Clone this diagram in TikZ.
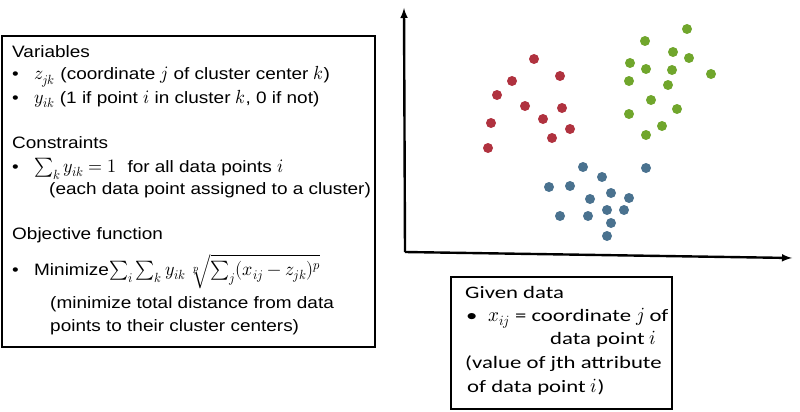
\documentclass[tikz,border=0pt]{standalone}
\usepackage{amsmath}
\usepackage{graphicx}
\usepackage{fontspec}
\usepackage{unicode-math}
\setmainfont{Liberation Sans}[FakeStretch=1.15]
\setmathfont{Latin Modern Math}[Scale=1.15]
\newfontfamily\givenfont{Carlito}[FakeStretch=1.3]
\usepackage{xcolor}
\usepackage{tikz}

\definecolor{clusterred}{RGB}{176,50,63}
\definecolor{clustergreen}{RGB}{112,166,44}
\definecolor{clusterblue}{RGB}{74,114,143}

\newcommand{\wmath}[1]{\scalebox{0.95}[1]{$#1$}}
\newcommand{\bul}{\makebox[22pt][l]{\textbullet}}

\begin{document}
\begin{tikzpicture}[x=1pt, y=-1pt,
    frame/.style={draw, line width=2.6pt},
    txt/.style={anchor=base west, inner sep=0pt, font=\fontsize{16.5}{20}\selectfont},
    gtxt/.style={anchor=base west, inner sep=0pt, font=\givenfont\fontsize{17.5}{20}\selectfont},
    axis/.style={->, >=latex, line width=2.4pt}]

    \useasboundingbox (0,0) rectangle (800,412);

    \draw [frame] (2,36) rectangle (375,347);
    \node [txt] (varhead) at (12,57) {Variables};
    \node [txt] (varz) at (12,80) {\bul\wmath{z_{jk}} (coordinate \wmath{j} of cluster center \wmath{k})};
    \node [txt] (vary) at (12,103) {\bul\wmath{y_{ik}} (1 if point \wmath{i} in cluster \wmath{k}, 0 if not)};
    \node [txt] (conhead) at (12,148) {Constraints};
    \node [txt] (consum) at (12,172) {\bul\wmath{\sum_k y_{ik} = 1}\ \ for all data points \wmath{i}};
    \node [txt] (conexp) at (49,194) {(each data point assigned to a cluster)};
    \node [txt] (objhead) at (12,239) {Objective function};
    \node [txt] (objmin) at (12,275) {\bul Minimize\wmath{\sum_i \sum_k y_{ik}\;\sqrt[p]{\sum_j (x_{ij} - z_{jk})^p}}};
    \node [txt] (objexp1) at (50,308) {(minimize total distance from data};
    \node [txt] (objexp2) at (50,331) {points to their cluster centers)};

    \coordinate (origin) at (405,252);
    \coordinate (ytip) at (404,8);
    \coordinate (xtip) at (792,258);
    \draw [axis] (origin) -- (ytip);
    \draw [axis] (origin) -- (xtip);

    \foreach \px/\py in {534/59, 560/76, 512/81, 497/95, 525/106, 562/108,
        491/123, 543/119, 570/129, 552/138, 488/148}
        \fill [clusterred] (\px,\py) circle (5);
    \foreach \px/\py in {687/29, 645/41, 673/52, 689/58, 630/63, 646/69, 672/70,
        711/74, 629/81, 668/85, 651/100, 677/109, 629/114, 662/126, 646/135}
        \fill [clustergreen] (\px,\py) circle (5);
    \foreach \px/\py in {583/167, 646/168, 602/177, 549/187, 570/186, 611/193,
        590/199, 629/198, 607/210, 624/210, 560/216, 588/216, 611/223, 607/236}
        \fill [clusterblue] (\px,\py) circle (5);

    \draw [frame] (451,277) rectangle (672,409);
    \node [gtxt] (givenhead) at (465,298) {Given data};
    \node [gtxt] (givenx) at (466,321) {\bul\wmath{x_{ij}} = coordinate \wmath{j} of};
    \node [gtxt] (givenpt) at (550,344) {data point \wmath{i}};
    \node [gtxt] (givenval) at (465,368) {(value of jth attribute};
    \node [gtxt] (givenof) at (467,392) {of data point \wmath{i})};
\end{tikzpicture}
\end{document}
